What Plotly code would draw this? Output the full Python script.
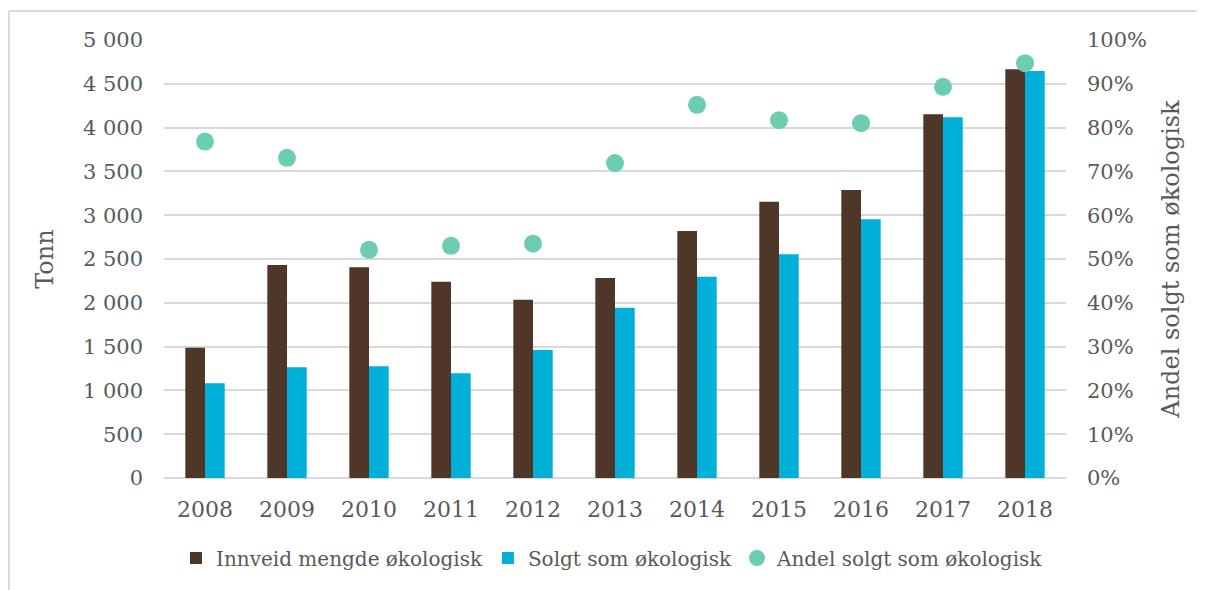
import plotly.graph_objects as go

# Data
years = ['2008', '2009', '2010', '2011', '2012', '2013', '2014', '2015', '2016', '2017', '2018']
innveid = [1487, 2431, 2405, 2241, 2035, 2283, 2820, 3154, 3288, 4152, 4665]
solgt = [1081, 1264, 1275, 1195, 1461, 1944, 2298, 2553, 2953, 4118, 4646]
andel = [0.768, 0.731, 0.521, 0.530, 0.535, 0.719, 0.852, 0.817, 0.810, 0.893, 0.947]

left_ticks = [0, 500, 1000, 1500, 2000, 2500, 3000, 3500, 4000, 4500, 5000]
left_labels = ['0', '500', '1 000', '1 500', '2 000', '2 500', '3 000', '3 500',
               '4 000', '4 500', '5 000']
right_ticks = [i / 10 for i in range(11)]
right_labels = [f'{i * 10}%' for i in range(11)]

FONT = 'DejaVu Serif'
GREY = '#595959'

fig = go.Figure()
fig.add_trace(go.Bar(x=years, y=innveid, name='Innveid mengde økologisk',
                     marker_color='#4E3629', marker_line_width=0))
fig.add_trace(go.Bar(x=years, y=solgt, name='Solgt som økologisk',
                     marker_color='#00B0D8', marker_line_width=0))
fig.add_trace(go.Scatter(x=years, y=andel, name='Andel solgt som økologisk',
                         mode='markers', yaxis='y2',
                         marker=dict(color='#6DCDB1', size=18)))

# page body has an 8px margin, so the figure is a little smaller than the window
fig.update_layout(
    width=1197, height=582,
    margin=dict(l=156, r=139, t=32, b=112, autoexpand=False),
    paper_bgcolor='white', plot_bgcolor='white',
    font=dict(family=FONT, size=20, color=GREY),
    barmode='group', bargap=0.52, bargroupgap=0,
    xaxis=dict(range=[-0.5, len(years) - 0.5], showgrid=False, ticks='',
               showline=False, automargin=False,
               ticklabelstandoff=16, tickfont=dict(size=22)),
    yaxis=dict(range=[0, 5000], tickvals=left_ticks, ticktext=left_labels,
               showgrid=True, gridcolor='#D9D9D9', gridwidth=2,
               zeroline=True, zerolinecolor='#D9D9D9', zerolinewidth=2,
               ticks='', ticklabelstandoff=20, automargin=False,
               tickfont=dict(size=21),
               title=dict(text='Tonn', font=dict(size=24), standoff=22)),
    yaxis2=dict(range=[0, 1], tickvals=right_ticks, ticktext=right_labels,
                overlaying='y', side='right', showgrid=False, zeroline=False,
                ticks='', ticklabelstandoff=20, automargin=False,
                tickfont=dict(size=21),
                title=dict(text='Andel solgt som økologisk', font=dict(size=24),
                           standoff=16)),
    legend=dict(orientation='h', xref='container', yref='container',
                x=0.505, xanchor='center', y=0.055, yanchor='middle',
                font=dict(size=20), itemwidth=30),
    showlegend=True,
    shapes=[
        dict(type='line', xref='paper', yref='paper',
             x0=-0.172, x1=1.16, y0=1.0662, y1=1.0662,
             line=dict(color='#D9D9D9', width=2)),
        dict(type='line', xref='paper', yref='paper',
             x0=-0.172, x1=-0.172, y0=1.0662, y1=-0.26,
             line=dict(color='#D9D9D9', width=2)),
    ],
)

fig.write_html('out.html')
